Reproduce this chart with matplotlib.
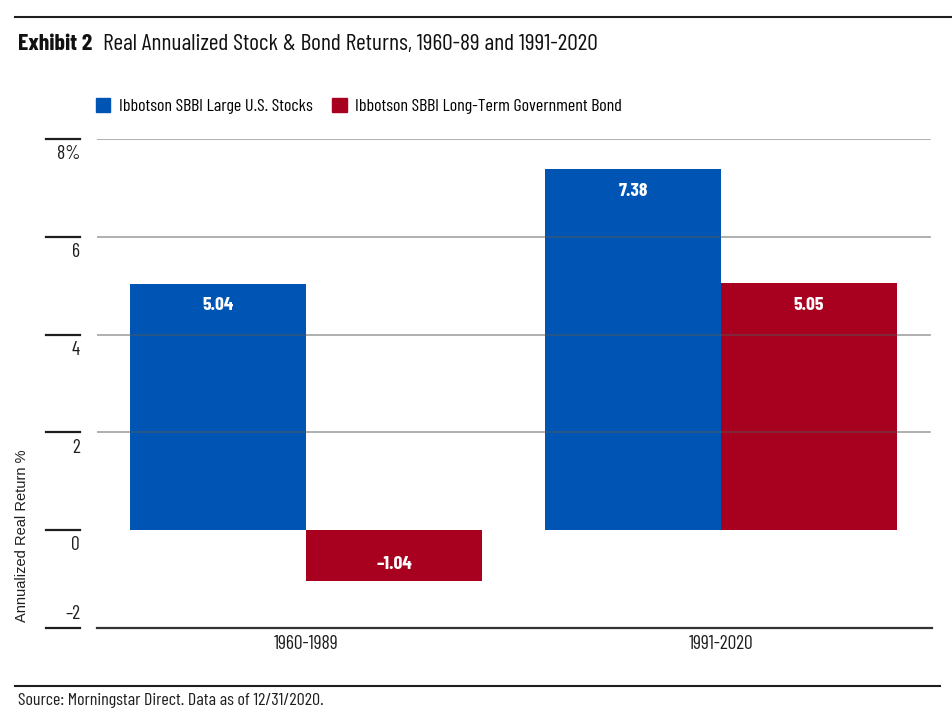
import matplotlib
matplotlib.use("Agg")
import matplotlib.pyplot as plt
from matplotlib.lines import Line2D
from matplotlib.patches import Patch

# data
periods = ["1960-1989", "1991-2020"]
stocks = [5.04, 7.38]
bonds = [-1.04, 5.05]
series_names = ["Ibbotson SBBI Large U.S. Stocks", "Ibbotson SBBI Long-Term Government Bond"]
yticks = [-2, 0, 2, 4, 6, 8]
ytick_labels = ["\u20132", "0", "2", "4", "6", "8%"]

BLUE = "#0055b4"
RED = "#a8001f"
INK = "#1e1e1e"
NARROW = dict(family=["Barlow Condensed", "DejaVu Sans"])


def main():
    fig = plt.figure(figsize=(9.52, 7.16), dpi=100)
    ax = fig.add_axes([97 / 952, 1 - 628 / 716, 835 / 952, 489 / 716])

    x = range(len(periods))
    w = 0.424
    ax.bar([i - w / 2 for i in x], stocks, w, color=BLUE, zorder=2)
    ax.bar([i + w / 2 for i in x], bonds, w, color=RED, zorder=2)

    # value labels inside the bars
    for i in x:
        for xv, v in ((i - w / 2, stocks[i]), (i + w / 2, bonds[i])):
            off = -16 if v > 0 else 12
            lab = f"{v:.2f}".replace("-", "\u2013")
            ax.annotate(lab, (xv, v), xytext=(0, off), textcoords="offset points",
                        ha="center", va="center", color="white", fontsize=14,
                        fontweight="bold", zorder=4, **NARROW)

    ax.set_xlim(-0.5036, 1.5084)
    ax.set_ylim(-2, 8)
    for t in yticks[2:]:
        ax.axhline(t, xmax=0.998, color="#555555", alpha=0.55, lw=1.2, zorder=3)

    for s in ("top", "right", "left"):
        ax.spines[s].set_visible(False)
    ax.spines["bottom"].set_color("#333333")
    ax.spines["bottom"].set_linewidth(1.6)
    ax.set_yticks([])
    ax.set_xticks(list(x))
    ax.set_xticklabels(periods, fontsize=14, **NARROW)
    ax.tick_params(axis="x", length=0, pad=5, colors=INK)

    # tick marks and labels sit out at the left, away from the plot
    # (the bottom label goes above its mark, the others below)
    tr = ax.get_yaxis_transform()
    for t, lab in zip(yticks, ytick_labels):
        ax.add_line(Line2D([-0.061, -0.0204], [t, t], transform=tr, color=INK,
                           lw=1.6, clip_on=False))
        dy = 10 if t == yticks[0] else -11
        ax.annotate(lab, (-0.0204, t), xycoords=tr, xytext=(0, dy), textcoords="offset points",
                    ha="right", va="center", fontsize=14, color=INK, **NARROW)

    fig.text(22 / 952, 1 - 536 / 716, "Annualized Real Return %", rotation=90,
             ha="center", va="center", fontsize=10.5, family="Liberation Sans", color=INK)

    # title and rules
    fig.add_artist(Line2D([15 / 952, 1.0], [1 - 17 / 716] * 2, color=INK, lw=1.5))
    t1 = fig.text(18 / 952, 1 - 44 / 716, "Exhibit 2", fontsize=17, fontweight="bold",
                  va="center", ha="left", color="#111111", **NARROW)
    ax.annotate("Real Annualized Stock & Bond Returns, 1960-89 and 1991-2020",
                xy=(1, 0.5), xycoords=t1, xytext=(8, 0), textcoords="offset points",
                va="center", ha="left", fontsize=17, color="#111111",
                annotation_clip=False, **NARROW)

    handles = [Patch(color=BLUE), Patch(color=RED)]
    fig.legend(handles, series_names, loc="center left", bbox_to_anchor=(96 / 952, 1 - 106 / 716),
               ncol=2, frameon=False, borderpad=0, borderaxespad=0, handlelength=0.8,
               handleheight=0.8, handletextpad=0.45, columnspacing=1.1,
               prop=dict(size=13, **NARROW))

    fig.add_artist(Line2D([15 / 952, 940 / 952], [1 - 686 / 716] * 2, color=INK, lw=1.5))
    fig.text(18 / 952, 1 - 700 / 716, "Source: Morningstar Direct. Data as of 12/31/2020.",
             fontsize=13, va="center", ha="left", color=INK, **NARROW)

    fig.savefig("out.png", dpi=100)


if __name__ == "__main__":
    main()
